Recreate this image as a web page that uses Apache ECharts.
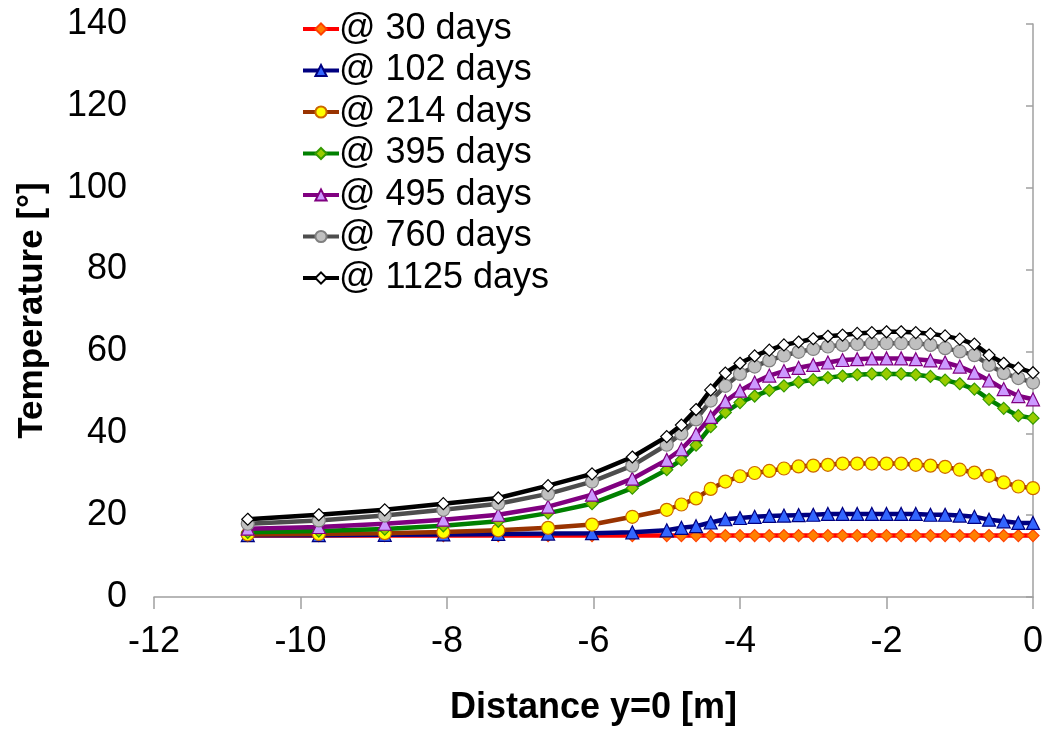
<!DOCTYPE html>
<html>
<head>
<meta charset="utf-8">
<script src="https://cdn.jsdelivr.net/npm/echarts@6/dist/echarts.min.js"></script>
<style>
  html, body { margin: 0; padding: 0; background: #fff; }
  #chart { width: 1050px; height: 733px; }
</style>
</head>
<body>
<div id="chart"></div>
<script>
// Distance along y=0 [m]
const distance = [-10.72, -9.75, -8.85, -8.05, -7.3, -6.62, -6.02, -5.47, -5.0, -4.8,
  -4.6, -4.4, -4.2, -4.0, -3.8, -3.6, -3.4, -3.2, -3.0, -2.8,
  -2.6, -2.4, -2.2, -2.0, -1.8, -1.6, -1.4, -1.2, -1.0, -0.8,
  -0.6, -0.4, -0.2, 0];

// Temperature [°] at each distance
const t30 = [15, 15, 15, 15, 15, 15, 15, 15, 15, 15,
  15, 15, 15, 15, 15, 15, 15, 15, 15, 15,
  15, 15, 15, 15, 15, 15, 15, 15, 15, 15,
  15, 15, 15, 15];
const t102 = [15.1, 15.1, 15.2, 15.3, 15.4, 15.5, 15.6, 15.8, 16.3, 16.9,
  17.3, 18.2, 19.0, 19.3, 19.6, 19.8, 19.9, 20.0, 20.1, 20.3,
  20.3, 20.3, 20.3, 20.3, 20.3, 20.3, 20.1, 20.1, 19.9, 19.6,
  18.9, 18.5, 18.1, 18.1];
const t214 = [15.3, 15.4, 15.6, 15.9, 16.3, 16.9, 17.7, 19.6, 21.3, 22.6,
  24.1, 26.4, 28.2, 29.5, 30.3, 30.8, 31.4, 31.9, 32.1, 32.3,
  32.6, 32.6, 32.6, 32.6, 32.6, 32.3, 32.1, 31.8, 31.1, 30.4,
  29.6, 28.0, 27.0, 26.6];
const t395 = [15.8, 16.1, 16.6, 17.4, 18.5, 20.5, 22.8, 26.6, 31.1, 33.5,
  37.1, 41.6, 45.1, 47.5, 49.1, 50.5, 51.6, 52.5, 53.1, 53.6,
  54.0, 54.3, 54.5, 54.5, 54.5, 54.3, 53.9, 53.0, 52.1, 50.8,
  48.3, 46.1, 44.3, 43.7];
const t495 = [16.7, 17.1, 17.9, 18.9, 20.1, 22.1, 25.0, 28.9, 33.5, 36.1,
  39.8, 44.0, 47.8, 50.4, 52.4, 54.1, 55.2, 56.0, 56.7, 57.3,
  57.9, 58.1, 58.3, 58.3, 58.3, 58.1, 57.8, 57.3, 56.3, 54.8,
  52.9, 50.8, 49.1, 48.3];
const t760 = [17.9, 18.7, 19.9, 21.3, 22.8, 25.2, 28.2, 32.1, 37.2, 39.9,
  43.4, 48.0, 51.6, 54.5, 56.3, 57.8, 59.0, 59.9, 60.6, 61.2,
  61.6, 61.8, 62.0, 62.0, 62.0, 62.0, 61.6, 60.8, 60.0, 59.1,
  56.7, 54.7, 53.5, 52.4];
const t1125 = [19.0, 20.1, 21.3, 22.8, 24.2, 27.2, 30.1, 34.2, 39.2, 42.0,
  45.8, 50.6, 54.7, 57.1, 58.9, 60.3, 61.6, 62.3, 63.1, 63.7,
  64.0, 64.4, 64.6, 64.8, 64.8, 64.6, 64.3, 63.8, 63.0, 61.8,
  59.1, 57.1, 55.9, 54.8];

const seriesNames = ['@ 30 days', '@ 102 days', '@ 214 days', '@ 395 days',
  '@ 495 days', '@ 760 days', '@ 1125 days'];
const seriesValues = [t30, t102, t214, t395, t495, t760, t1125];

// Line colour, marker shape, marker fill, marker border, marker size
const styles = [
  { line: '#ff0000', symbol: 'diamond', fill: '#ff8000', border: '#ff4000', size: 12 },
  { line: '#000080', symbol: 'triangle', fill: '#3366ff', border: '#000080', size: 13 },
  { line: '#993300', symbol: 'circle', fill: '#ffff00', border: '#cc6600', size: 13 },
  { line: '#008000', symbol: 'diamond', fill: '#99cc00', border: '#339900', size: 12 },
  { line: '#800080', symbol: 'triangle', fill: '#cc99ff', border: '#800080', size: 13 },
  { line: '#4d4d4d', symbol: 'circle', fill: '#c0c0c0', border: '#808080', size: 13 },
  { line: '#000000', symbol: 'diamond', fill: '#ffffff', border: '#000000', size: 12 }
];

const FONT = 'Liberation Sans, Arial, sans-serif';

const chart = echarts.init(document.getElementById('chart'), null, { renderer: 'canvas' });

const series = seriesNames.map((name, i) => ({
  name: name,
  type: 'line',
  yAxisIndex: 0,
  data: distance.map((d, k) => [d, seriesValues[i][k]]),
  symbol: styles[i].symbol,
  symbolSize: styles[i].size,
  showAllSymbol: true,
  lineStyle: { color: styles[i].line, width: 4.5 },
  itemStyle: { color: styles[i].fill, borderColor: styles[i].border, borderWidth: 1.2 },
  emphasis: { disabled: true },
  animation: false,
  z: 2 + i
}));

chart.setOption({
  backgroundColor: '#ffffff',
  animation: false,
  grid: { left: 154, right: 17, top: 24, bottom: 136, containLabel: false },
  legend: {
    orient: 'vertical',
    left: 296,
    top: 6,
    itemWidth: 36,
    itemHeight: 14,
    itemGap: 5.5,
    lineStyle: { width: 4 },
    textStyle: { fontFamily: FONT, fontSize: 36, color: '#000', lineHeight: 36, padding: [0, 0, 0, -5] },
    data: seriesNames
  },
  xAxis: {
    type: 'value',
    min: -12,
    max: 0,
    interval: 2,
    name: 'Distance y=0 [m]',
    nameLocation: 'middle',
    nameGap: 93,
    nameTextStyle: { fontFamily: FONT, fontSize: 36, fontWeight: 'bold', color: '#000' },
    axisLine: { onZero: false, lineStyle: { color: '#a0a0a0', width: 1.5 } },
    axisTick: { show: true, length: 12, lineStyle: { color: '#a0a0a0', width: 1.5 } },
    axisLabel: { fontFamily: FONT, fontSize: 36, color: '#000', margin: 27 },
    splitLine: { show: false }
  },
  yAxis: [
    {
      type: 'value',
      position: 'left',
      min: 0,
      max: 140,
      interval: 20,
      name: 'Temperature [°]',
      nameLocation: 'middle',
      nameGap: 104,
      nameTextStyle: { fontFamily: FONT, fontSize: 35, fontWeight: 'bold', color: '#000' },
      axisLine: { show: false },
      axisTick: { show: false },
      axisLabel: { fontFamily: FONT, fontSize: 36, color: '#000', margin: 27 },
      splitLine: { show: false }
    },
    {
      type: 'value',
      position: 'right',
      min: 0,
      max: 140,
      interval: 20,
      axisLine: { show: true, onZero: false, lineStyle: { color: '#a0a0a0', width: 1.5 } },
      axisTick: { show: true, inside: true, length: 7, lineStyle: { color: '#a0a0a0', width: 1.5 } },
      axisLabel: { show: false },
      splitLine: { show: false }
    }
  ],
  series: series
});
</script>
</body>
</html>
